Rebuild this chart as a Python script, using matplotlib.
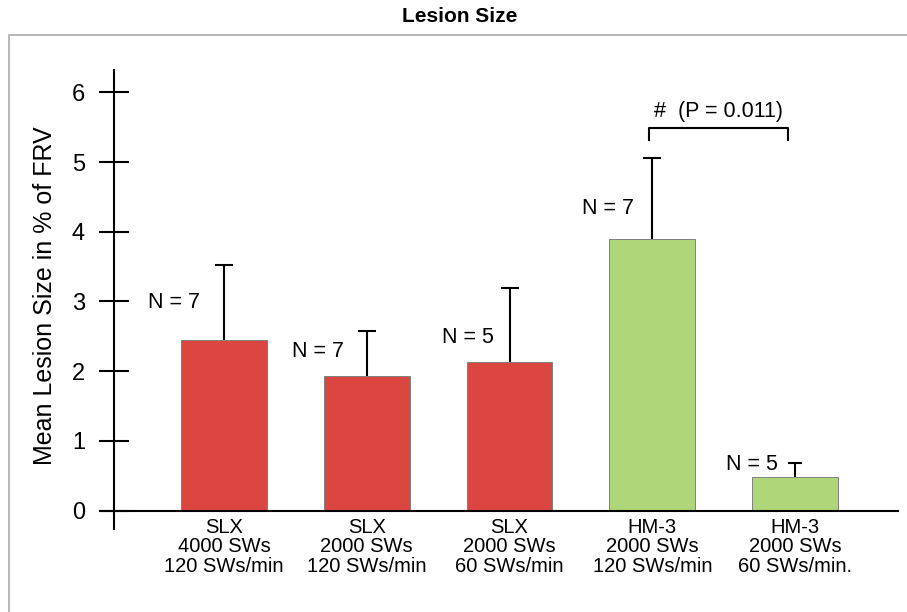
import numpy as np
import matplotlib
matplotlib.use("Agg")
import matplotlib.pyplot as plt
from matplotlib.patches import Rectangle

plt.rcParams['font.family'] = ['Liberation Sans', 'DejaVu Sans']

# data
groups = ["SLX\n4000 SWs\n120 SWs/min",
          "SLX\n2000 SWs\n120 SWs/min",
          "SLX\n2000 SWs\n60 SWs/min",
          "HM-3\n2000 SWs\n120 SWs/min",
          "HM-3\n2000 SWs\n60 SWs/min."]
means = [2.45, 1.93, 2.13, 3.89, 0.48]
err_upper = [1.08, 0.64, 1.07, 1.17, 0.21]
n_labels = ["N = 7", "N = 7", "N = 5", "N = 7", "N = 5"]
bar_colors = ["#dc4641", "#dc4641", "#dc4641", "#afd779", "#afd779"]
y_ticks = [0, 1, 2, 3, 4, 5, 6]

fig = plt.figure(figsize=(9.07, 6.12), dpi=100)
ax = fig.add_axes([0.126, 0.1356, 0.864, 0.75])

x = np.arange(len(means))
tops = np.array(means) + np.array(err_upper)
ax.bar(x, means, width=0.6, color=bar_colors, edgecolor="#808080", linewidth=0.7, zorder=2)

# upper-only error bars: stem plus cap
ax.vlines(x, means, tops, color="black", linewidth=1.5, zorder=3)
cap_sizes = [13, 13, 13, 13, 10]
for xi, t, cs in zip(x, tops, cap_sizes):
    ax.plot(xi, t, marker="_", markersize=cs, markeredgewidth=1.5, color="black", zorder=3)

ax.set_xlim(-0.768, 4.72)
ax.set_ylim(-0.263, 6.32)

# x axis line at zero, running a bit left of the y axis
ax.plot([-0.862, 4.72], [0, 0], color="black", linewidth=1.5, clip_on=False, zorder=4)

for s in ["top", "right", "bottom"]:
    ax.spines[s].set_visible(False)
ax.spines["left"].set_linewidth(1.5)

ax.set_xticks([])
ax.set_yticks(y_ticks)
ax.tick_params(axis="y", direction="inout", length=22, width=1.5, pad=10, labelsize=17)

# category labels under the bars
for xi, g in zip(x, groups):
    ax.text(xi, -0.1, g, ha="center", va="top", fontsize=14.5, linespacing=1.05)

# N labels
n_pos = [(-0.35, 2.98), (0.66, 2.29), (1.71, 2.49), (2.69, 4.33), (3.70, 0.66)]
for (nx, ny), lab in zip(n_pos, n_labels):
    ax.text(nx, ny, lab, ha="center", va="center", fontsize=15.5)

# significance bracket
ax.plot([2.98, 2.98, 3.95, 3.95], [5.32, 5.49, 5.49, 5.32], color="black",
        linewidth=1.5, clip_on=False)
ax.text(3.46, 5.72, "#  (P = 0.011)", ha="center", va="center", fontsize=15.5)

fig.text(45 / 907, 1 - 296 / 612, "Mean Lesion Size in % of FRV", rotation=90,
         ha="center", va="center", fontsize=18)
fig.text(0.507, 1 - 17 / 612, "Lesion Size", ha="center", va="center",
         fontsize=15, fontweight="bold")

# light frame around the plot area
fig.patches.append(Rectangle((9 / 907, -0.1), 1.2, 1 - 35 / 612 + 0.1,
                             transform=fig.transFigure, fill=False,
                             edgecolor="#aaaaaa", linewidth=1.2))

fig.savefig("out.png", dpi=100)
